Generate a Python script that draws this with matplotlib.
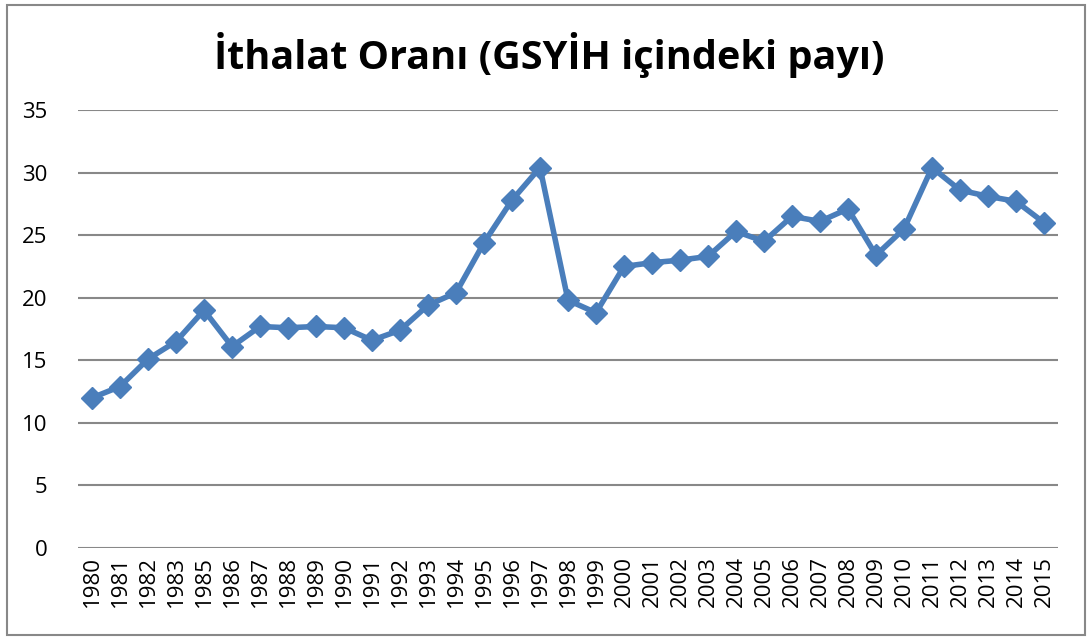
import matplotlib.pyplot as plt
from matplotlib.patches import Rectangle

# Yillar (1984 grafikte yok)
years = ["1980", "1981", "1982", "1983", "1985", "1986", "1987", "1988", "1989",
         "1990", "1991", "1992", "1993", "1994", "1995", "1996", "1997", "1998",
         "1999", "2000", "2001", "2002", "2003", "2004", "2005", "2006", "2007",
         "2008", "2009", "2010", "2011", "2012", "2013", "2014", "2015"]
ithalat = [12.0, 12.9, 15.1, 16.5, 19.0, 16.1, 17.7, 17.6, 17.7,
           17.6, 16.6, 17.4, 19.4, 20.4, 24.4, 27.8, 30.4, 19.8,
           18.8, 22.5, 22.8, 23.0, 23.3, 25.3, 24.5, 26.5, 26.1,
           27.1, 23.4, 25.5, 30.4, 28.6, 28.1, 27.7, 26.0]
yticks = [0, 5, 10, 15, 20, 25, 30, 35]

plt.rcParams['font.family'] = ['Open Sans', 'DejaVu Sans']

fig = plt.figure(figsize=(10.92, 6.39), dpi=100)
ax = fig.add_axes([78 / 1092, 1 - 548 / 639, 980 / 1092, 438 / 639])

x = list(range(len(years)))
ax.plot(x, ithalat, color='#4a7ebb', lw=4, marker='D', markersize=11,
        markeredgecolor='#4a7ebb', zorder=3)

ax.set_xlim(-0.5, len(years) - 0.5)
ax.set_ylim(0, 35)
ax.set_yticks(yticks)
ax.set_xticks(x)
ax.set_xticklabels(years, rotation=90, fontsize=16)
ax.tick_params(axis='y', labelsize=16, length=0, pad=22)
ax.tick_params(axis='x', length=0, pad=6)
ax.grid(axis='y', color='#888888', lw=1.5)
ax.set_axisbelow(True)
for s in ax.spines.values():
    s.set_visible(False)

fig.text(0.503, 1 - 55 / 639, "İthalat Oranı (GSYİH içindeki payı)",
         ha='center', va='center', fontsize=28.5, fontweight='bold')

fig.patches.append(Rectangle((7 / 1092, 4 / 639), 1078 / 1092, 630 / 639,
                             transform=fig.transFigure, fill=False,
                             edgecolor='#888888', lw=1.5))

fig.savefig('out.png', dpi=100)
